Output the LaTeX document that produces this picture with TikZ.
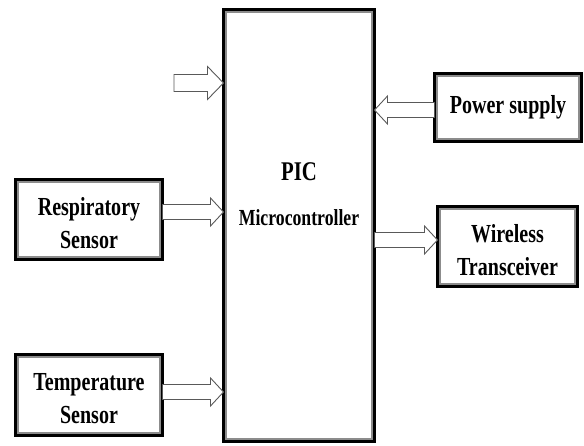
\documentclass[tikz,border=0pt]{standalone}
\usepackage{fontspec}
\setmainfont{Liberation Serif}
\newfontfamily\lblfont[FakeStretch=0.77]{Liberation Serif}
\usetikzlibrary{calc}
\newcommand{\tstrut}{\rule{0pt}{25pt}}
\begin{document}
\begin{tikzpicture}[x=1pt,y=-1pt,
  bsh/.store in=\bsh, bhd/.store in=\bhd, blen/.store in=\blen,
  bsh=7.5pt, bhd=14pt, blen=13pt,
  box/.style={draw=black, line width=3pt, fill=white, outer sep=0pt, inner sep=0pt,
    align=center, font=\lblfont\bfseries\fontsize{26}{33}\selectfont,
    path picture={\draw[black!45, line width=7pt] (path picture bounding box.north west) rectangle (path picture bounding box.south east);}},
  txt/.style={anchor=base, inner sep=0pt, font=\lblfont\bfseries},
  barrow/.style={draw=black!65, fill=white, line width=0.9pt, line join=miter,
    to path={let \p1=(\tikztostart), \p2=(\tikztotarget), \n1={(\x2-\x1)/abs(\x2-\x1)} in
      (\x1,{\y1+\bsh}) -- ({\x2-(\n1)*\blen},{\y1+\bsh}) -- ({\x2-(\n1)*\blen},{\y1+\bhd})
      -- (\x2,\y1) -- ({\x2-(\n1)*\blen},{\y1-\bhd}) -- ({\x2-(\n1)*\blen},{\y1-\bsh})
      -- (\x1,{\y1-\bsh}) -- cycle}}]
\useasboundingbox (0,0) rectangle (584,445);

% boxes
\node[box, minimum width=151pt, minimum height=432pt] (mcu) at (299,225.5) {};
\node[txt, font=\lblfont\bfseries\fontsize{27}{27}\selectfont] (pic) at (299,180) {PIC};
\node[txt, font=\lblfont\bfseries\fontsize{23}{23}\selectfont] (mc) at (299,225) {Microcontroller};

\node[box, minimum width=147pt, minimum height=80pt] (resp) at (89,219.5) {\tstrut Respiratory\\Sensor};
\node[box, minimum width=147pt, minimum height=81pt] (temp) at (89,395) {\tstrut Temperature\\Sensor};
\node[box, minimum width=147pt, minimum height=68pt] (pwr) at (508,107.5) {Power supply};
\node[box, minimum width=140pt, minimum height=80pt] (wl) at (507.5,246.5) {\tstrut Wireless\\Transceiver};

% arrows
\coordinate (in1) at (174,83);
\draw[barrow, bsh=8.5pt, bhd=16.5pt, blen=16pt] (in1) to (mcu.west |- in1);
\draw[barrow] (resp.east |- 0,212) to (mcu.west |- 0,212);
\draw[barrow] (temp.east |- 0,392) to (mcu.west |- 0,392);
\draw[barrow] (pwr.west |- 0,110) to (mcu.east |- 0,110);
\draw[barrow] (mcu.east |- 0,240) to (wl.west |- 0,240);
\end{tikzpicture}
\end{document}
